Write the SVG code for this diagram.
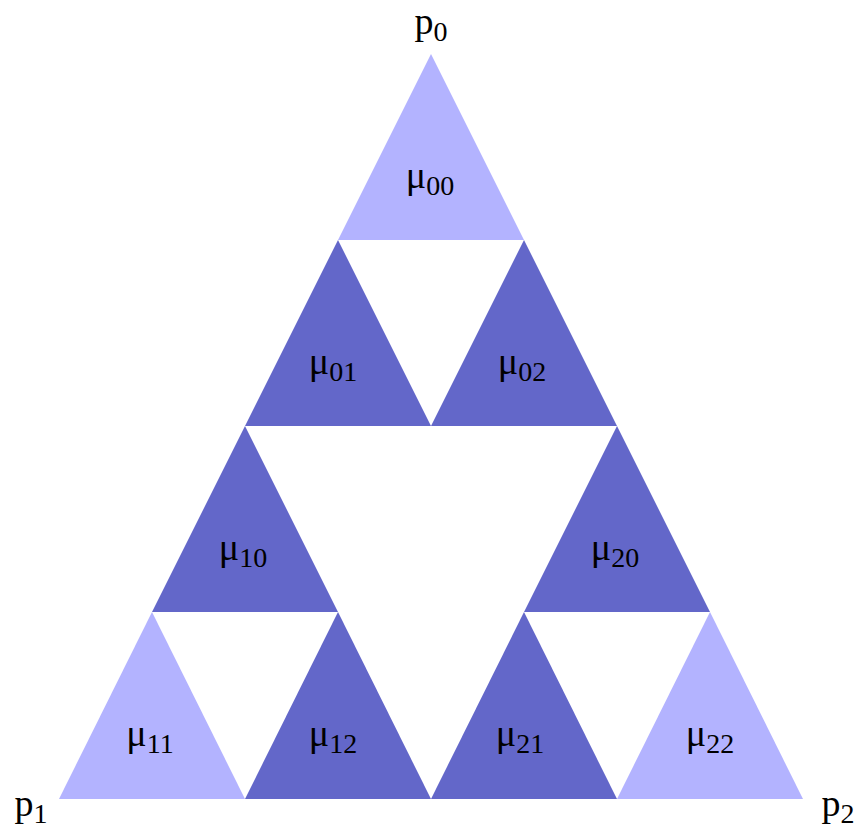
<svg xmlns="http://www.w3.org/2000/svg" width="859" height="836" viewBox="0 0 859 836">
<style>
.l{fill:#b3b3ff}
.d{fill:#6367c9}
text{font-family:"Liberation Serif","Times New Roman",serif;font-size:38px;fill:#000;text-anchor:middle}
.s{font-size:28px}
</style>
<rect width="859" height="836" fill="#fff"/>
<g id="t00"><polygon class="l" points="431,54 338,240 524,240"/><text x="430" y="188">μ<tspan class="s" dy="7">00</tspan></text></g>
<g id="t01"><polygon class="d" points="338,240 245,426 431,426"/><text x="333" y="374">μ<tspan class="s" dy="7">01</tspan></text></g>
<g id="t02"><polygon class="d" points="524,240 431,426 617,426"/><text x="522" y="374">μ<tspan class="s" dy="7">02</tspan></text></g>
<g id="t10"><polygon class="d" points="245,426 152,612 338,612"/><text x="243" y="560">μ<tspan class="s" dy="7">10</tspan></text></g>
<g id="t20"><polygon class="d" points="617,426 524,612 710,612"/><text x="615" y="560">μ<tspan class="s" dy="7">20</tspan></text></g>
<g id="t11"><polygon class="l" points="152,612 59,799 245,799"/><text x="150" y="746">μ<tspan class="s" dy="7">11</tspan></text></g>
<g id="t12"><polygon class="d" points="338,612 245,799 431,799"/><text x="333" y="746">μ<tspan class="s" dy="7">12</tspan></text></g>
<g id="t21"><polygon class="d" points="524,612 431,799 617,799"/><text x="520" y="746">μ<tspan class="s" dy="7">21</tspan></text></g>
<g id="t22"><polygon class="l" points="710,612 617,799 803,799"/><text x="710" y="746">μ<tspan class="s" dy="7">22</tspan></text></g>
<g id="p0"><text x="431" y="34">p<tspan class="s" dy="7">0</tspan></text></g>
<g id="p1"><text x="31" y="816">p<tspan class="s" dy="7">1</tspan></text></g>
<g id="p2"><text x="838" y="816">p<tspan class="s" dy="7">2</tspan></text></g>
</svg>
